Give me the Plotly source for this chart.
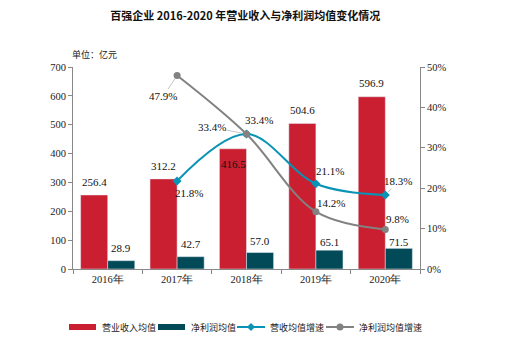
import plotly.graph_objects as go

years = ["2016年", "2017年", "2018年", "2019年", "2020年"]
revenue = [256.4, 312.2, 416.5, 504.6, 596.9]
profit = [28.9, 42.7, 57.0, 65.1, 71.5]
rev_growth_years = ["2017年", "2018年", "2019年", "2020年"]
rev_growth = [0.218, 0.334, 0.211, 0.183]
profit_growth = [0.479, 0.334, 0.142, 0.098]

RED = "#C91F30"
TEAL = "#024A58"
BLUE = "#0993B5"
GRAY = "#828282"
SERIF = "Liberation Serif"
CJK = "Noto Sans CJK SC"

# plot area in pixels (for decoration placement)
L, R, T, B = 73, 420, 67, 269
def px(xp):
    return (xp - L) / (R - L)
def py(yp):
    return (B - yp) / (B - T)

fig = go.Figure()
fig.add_bar(x=years, y=revenue, name="营业收入均值", marker_color=RED, yaxis="y")
fig.add_bar(x=years, y=profit, name="净利润均值", marker_color=TEAL, yaxis="y")
fig.add_scatter(x=rev_growth_years, y=rev_growth, name="营收均值增速", yaxis="y2",
                mode="lines+markers", line=dict(color=BLUE, width=2, shape="spline", smoothing=1.0),
                marker=dict(symbol="diamond", size=7, color=BLUE))
fig.add_scatter(x=rev_growth_years, y=profit_growth, name="净利润均值增速", yaxis="y2",
                mode="lines+markers", line=dict(color=GRAY, width=2, shape="spline", smoothing=1.0),
                marker=dict(symbol="circle", size=7, color=GRAY))

ann = []
rev_shift = [13, 13, -15, 13, 14]
prof_shift = [13, 13, 12, 8, 6]
for i, yv in enumerate(years):
    ann.append(dict(x=yv, y=revenue[i], xref="x", yref="y", text=f"{revenue[i]:.1f}",
                    showarrow=False, xshift=-13.5, yshift=rev_shift[i]))
    ann.append(dict(x=yv, y=profit[i], xref="x", yref="y", text=f"{profit[i]:.1f}",
                    showarrow=False, xshift=13.5, yshift=prof_shift[i]))
rev_off = [(12, 12, False), (-35, -7, True), (14, -13, False), (13, -14, True)]
prof_off = [(-14, 21, True), (12, -14, False), (15, -9, False), (12, -10, False)]
for i, yv in enumerate(rev_growth_years):
    for vals, offs in ((rev_growth, rev_off), (profit_growth, prof_off)):
        ax, ay, arr = offs[i]
        if arr:
            ann.append(dict(x=yv, y=vals[i], xref="x", yref="y2", text=f"{vals[i]*100:.1f}%",
                            showarrow=True, arrowhead=0, arrowwidth=0.8, arrowcolor="#b5b5b5",
                            ax=ax, ay=ay, standoff=4, startstandoff=0))
        else:
            ann.append(dict(x=yv, y=vals[i], xref="x", yref="y2", text=f"{vals[i]*100:.1f}%",
                            showarrow=False, xshift=ax, yshift=-ay))
for a in ann:
    a["font"] = dict(family=SERIF, size=11, color="#111")

ann.append(dict(x=px(70), y=py(55), xref="paper", yref="paper", text="单位：亿元", showarrow=False,
                xanchor="left", yanchor="middle", font=dict(family=CJK, size=9, color="#222")))

# manual legend
shapes = []
leg_y = 327
legend_items = [
    ("营业收入均值", "bar", RED, 69, 100),
    ("净利润均值", "bar", TEAL, 158, 189),
    ("营收均值增速", "line", BLUE, 237, 268),
    ("净利润均值增速", "line", GRAY, 326, 357),
]
for name, kind, col, x0, tx in legend_items:
    if kind == "bar":
        shapes.append(dict(type="rect", xref="paper", yref="paper", x0=px(x0), x1=px(x0 + 27),
                           y0=py(leg_y + 3), y1=py(leg_y - 3), fillcolor=col, line=dict(width=0)))
    else:
        shapes.append(dict(type="line", xref="paper", yref="paper", x0=px(x0), x1=px(x0 + 28),
                           y0=py(leg_y), y1=py(leg_y), line=dict(color=col, width=2)))
    ann.append(dict(x=px(tx), y=py(leg_y), xref="paper", yref="paper", text=name, showarrow=False,
                    xanchor="left", yanchor="middle", font=dict(family=CJK, size=9, color="#222")))
# legend marker glyphs
shapes.append(dict(type="path", xref="paper", yref="paper", xsizemode="pixel", ysizemode="pixel",
                   xanchor=px(251), yanchor=py(leg_y), path="M-4,0 L0,4 L4,0 L0,-4 Z",
                   fillcolor=BLUE, line=dict(width=0)))
shapes.append(dict(type="circle", xref="paper", yref="paper", xsizemode="pixel", ysizemode="pixel",
                   xanchor=px(340), yanchor=py(leg_y), x0=-3.5, x1=3.5, y0=-3.5, y1=3.5,
                   fillcolor=GRAY, line=dict(width=0)))

fig.update_layout(annotations=ann, shapes=shapes)

fig.update_layout(
    width=511, height=351,
    margin=dict(l=L, r=511 - R, t=T, b=351 - B),
    paper_bgcolor="white", plot_bgcolor="white",
    barmode="group", bargap=0.22, bargroupgap=0,
    showlegend=False,
    title=dict(text="<b>百强企业 2016-2020 年营业收入与净利润均值变化情况</b>", x=0.48, xanchor="center",
               y=0.955, yanchor="middle", font=dict(family=CJK, size=11, color="#111")),
    xaxis=dict(showline=True, linecolor="#888", linewidth=1, ticks="outside", tickson="boundaries",
               ticklen=4, tickcolor="#888", tickfont=dict(family=SERIF, size=10.5, color="#222"),
               showgrid=False),
    yaxis=dict(range=[0, 700], dtick=100, showline=True, linecolor="#888", linewidth=1,
               ticks="outside", ticklen=4, tickcolor="#888", showgrid=False, zeroline=False,
               tickfont=dict(family=SERIF, size=10.5, color="#222")),
    yaxis2=dict(range=[0, 0.5], dtick=0.1, tickformat=".0%", overlaying="y", side="right",
                showline=True, linecolor="#888", linewidth=1, ticks="outside", ticklen=4,
                tickcolor="#888", showgrid=False, zeroline=False,
                tickfont=dict(family=SERIF, size=10.5, color="#222")),
)
fig.write_html("out.html")
